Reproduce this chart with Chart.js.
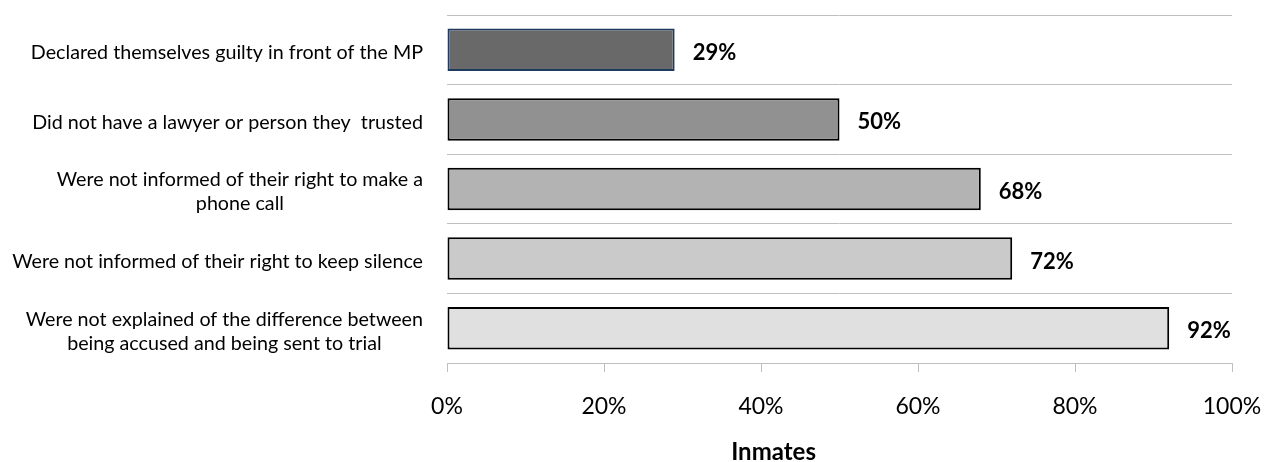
<!DOCTYPE html>
<html>
<head>
<meta charset="utf-8">
<script src="https://cdn.jsdelivr.net/npm/chart.js@4/dist/chart.umd.min.js"></script>
<style>
  html, body { margin: 0; padding: 0; background: #ffffff; }
  canvas { display: block; }
</style>
</head>
<body>
<canvas id="c" width="1267" height="462"></canvas>
<script>
// Category labels (one array of lines per bar)
const categories = [
  ["Declared themselves guilty in front of the MP"],
  ["Did not have a lawyer or person they  trusted"],
  ["Were not informed of their right to make a", "phone call"],
  ["Were not informed of their right to keep silence"],
  ["Were not explained of the difference between", "being accused and being sent to trial"]
];
// Share of inmates (%)
const values = [29, 50, 68, 72, 92];
// Bar fills and outlines, darkest first
const fillColors = ["#696969", "#919191", "#B3B3B3", "#CACACA", "#E0E0E0"];
const borderColors = ["#1F3A5F", "#000000", "#000000", "#000000", "#000000"];
// Axis settings
const axisTitle = "Inmates";
const tickValues = [0, 20, 40, 60, 80, 100];

const FONT = "Lato, 'Open Sans', sans-serif";

// Draws category labels: block right-aligned to the axis, lines centred within the block
const categoryLabelPlugin = {
  id: 'categoryLabels',
  afterDraw(chart) {
    const ctx = chart.ctx;
    const y = chart.scales.y;
    const rightEdge = chart.chartArea.left - 24;
    const lineH = 24;
    ctx.save();
    ctx.font = "19.7px " + FONT;
    ctx.fillStyle = "#000000";
    ctx.textBaseline = "middle";
    ctx.textAlign = "center";
    categories.forEach((lines, i) => {
      const cy = y.getPixelForValue(i) + 3;
      const w = Math.max(...lines.map(l => ctx.measureText(l).width));
      const cx = rightEdge - w / 2;
      const top = cy - (lines.length - 1) * lineH / 2;
      lines.forEach((l, j) => ctx.fillText(l, cx, top + j * lineH));
    });
    ctx.restore();
  }
};

// Draws the value next to the end of each bar
const valueLabelPlugin = {
  id: 'valueLabels',
  afterDatasetsDraw(chart) {
    const ctx = chart.ctx;
    const meta = chart.getDatasetMeta(0);
    ctx.save();
    ctx.font = "bold 22px " + FONT;
    ctx.fillStyle = "#000000";
    ctx.textBaseline = "middle";
    ctx.textAlign = "left";
    meta.data.forEach((bar, i) => {
      ctx.fillText(values[i] + "%", bar.x + 18, bar.y + 3);
    });
    ctx.restore();
  }
};

// Axis title under the tick labels
const axisTitlePlugin = {
  id: 'axisTitle',
  afterDraw(chart) {
    const ctx = chart.ctx;
    const x = chart.scales.x;
    ctx.save();
    ctx.font = "bold 24px " + FONT;
    ctx.fillStyle = "#000000";
    ctx.textAlign = "center";
    ctx.textBaseline = "alphabetic";
    ctx.fillText(axisTitle, x.getPixelForValue(41.6), 460);
    ctx.restore();
  }
};

new Chart(document.getElementById('c'), {
  type: 'bar',
  data: {
    labels: categories,
    datasets: [{
      data: values,
      backgroundColor: fillColors,
      borderColor: borderColors,
      borderWidth: 2,
      borderSkipped: false,
      barPercentage: 0.61,
      categoryPercentage: 1.0
    }]
  },
  options: {
    indexAxis: 'y',
    responsive: false,
    animation: false,
    devicePixelRatio: 1,
    layout: { padding: { left: 447, right: 35, top: 15, bottom: 0 } },
    plugins: {
      legend: { display: false },
      tooltip: { enabled: false },
      title: { display: false }
    },
    scales: {
      x: {
        type: 'linear',
        min: 0,
        max: 100,
        afterBuildTicks(scale) {
          scale.ticks = tickValues.map(v => ({ value: v }));
        },
        afterFit(scale) {
          scale.height = 99;
          // end labels may overhang the plot edges; layout padding covers them
          scale.paddingLeft = 0;
          scale.paddingRight = 0;
        },
        ticks: {
          callback: v => v + "%",
          font: { family: FONT, size: 23 },
          color: "#000000",
          padding: 21,
          maxRotation: 0
        },
        grid: {
          drawOnChartArea: false,
          drawTicks: true,
          tickLength: 9,
          color: "#BFBFBF",
          lineWidth: 1
        },
        border: { display: true, color: "#BFBFBF", width: 1 }
      },
      y: {
        type: 'category',
        ticks: { display: false },
        afterFit(scale) { scale.width = 0; },
        grid: {
          offset: true,
          drawTicks: false,
          color: "#BFBFBF",
          lineWidth: 1
        },
        border: { display: false }
      }
    }
  },
  plugins: [categoryLabelPlugin, valueLabelPlugin, axisTitlePlugin]
});
</script>
</body>
</html>
